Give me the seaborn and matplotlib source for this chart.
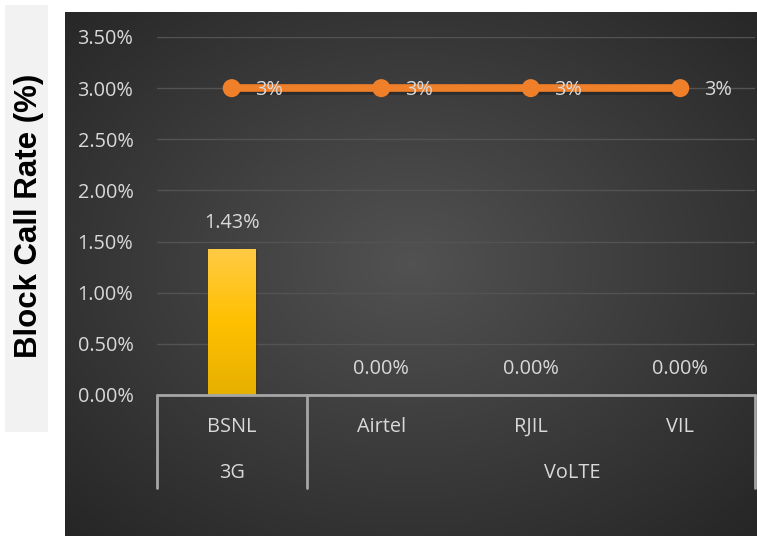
import numpy as np
import matplotlib
matplotlib.use("Agg")
import matplotlib.pyplot as plt
import matplotlib.patheffects as pe
from matplotlib.ticker import PercentFormatter
import seaborn as sns

# Chart data (rates as fractions)
operators = ["BSNL", "Airtel", "RJIL", "VIL"]
technology = ["3G", "VoLTE", "VoLTE", "VoLTE"]
block_call_rate = [0.0143, 0.0, 0.0, 0.0]
benchmark = [0.03, 0.03, 0.03, 0.03]
bar_labels = ["1.43%", "0.00%", "0.00%", "0.00%"]
benchmark_labels = ["3%", "3%", "3%", "3%"]
y_ticks = [0.0, 0.005, 0.01, 0.015, 0.02, 0.025, 0.03, 0.035]

# Canvas size in pixels
W, H = 757, 536
TEXT_COLOR = "#d9d9d9"
AXIS_COLOR = "#a6a6a6"
LINE_COLOR = "#f07f2a"
FONT = "Open Sans"
FS = 14.3

sns.set_theme(style="white")
plt.rcParams["font.family"] = [FONT, "DejaVu Sans"]

fig = plt.figure(figsize=(W / 100, H / 100), dpi=100)
fig.patch.set_facecolor("white")

# Light grey panel holding the y-axis title
panel = fig.add_axes([5 / W, 1 - 432 / H, 43 / W, 427 / H])
panel.set_facecolor("#f2f2f2")
panel.set_xticks([])
panel.set_yticks([])
for s in panel.spines.values():
    s.set_visible(False)
panel.text(0.55, 0.505, "Block Call Rate (%)", rotation=90, ha="center", va="center",
           fontsize=22.5, fontweight="bold", family="Liberation Sans", color="black",
           transform=panel.transAxes)

# Dark radial gradient background
bg = fig.add_axes([65 / W, 0, 1 - 65 / W, 1 - 12 / H], zorder=0)
gx, gy = np.meshgrid(np.linspace(0, 1, 400), np.linspace(0, 1, 300))
r = np.sqrt(((gx - 0.5) / 0.75) ** 2 + ((gy - 0.52) / 0.75) ** 2)
shade = 0.32 - 0.17 * np.clip(r / 0.95, 0, 1)
bg.imshow(np.dstack([shade, shade, shade]), extent=(0, 1, 0, 1), aspect="auto", origin="lower")
bg.set_axis_off()

# Main plot area
ax = fig.add_axes([157 / W, 1 - 395 / H, (755 - 157) / W, (395 - 37) / H], zorder=1)
ax.patch.set_alpha(0)
x = np.arange(len(operators))

sns.barplot(x=x, y=block_call_rate, ax=ax, color="#ffc000", width=0.32,
            native_scale=True, edgecolor="none", linewidth=0, zorder=3)

# Gold vertical gradient on the bars
grad = np.linspace(0, 1, 256).reshape(-1, 1)
gold = matplotlib.colors.LinearSegmentedColormap.from_list(
    "gold", ["#e6b000", "#ffc000", "#ffcb45"])
for patch in ax.patches:
    patch.set_path_effects([pe.SimplePatchShadow(offset=(2, -1), alpha=0.4), pe.Normal()])
    bx, by = patch.get_x(), patch.get_y()
    bw, bh = patch.get_width(), patch.get_height()
    if bh <= 0:
        continue
    im = ax.imshow(grad, cmap=gold, extent=(bx, bx + bw, by, by + bh),
                   aspect="auto", origin="lower", zorder=4)
    im.set_clip_path(patch)

# Benchmark line with markers
sns.lineplot(x=x, y=benchmark, ax=ax, color=LINE_COLOR, linewidth=5.5, marker="o",
             markersize=13, markeredgewidth=0, zorder=5,
             path_effects=[pe.SimpleLineShadow(offset=(1.5, -2), alpha=0.45), pe.Normal()])

# Data labels
for xi, v, lab in zip(x, block_call_rate, bar_labels):
    ax.annotate(lab, (xi, v), xytext=(0, 18.5), textcoords="offset points",
                ha="center", va="center", fontsize=FS, color=TEXT_COLOR, zorder=6)
for xi, v, lab in zip(x, benchmark, benchmark_labels):
    ax.annotate(lab, (xi, v), xytext=(17, -1), textcoords="offset points",
                ha="left", va="center", fontsize=FS, color=TEXT_COLOR, zorder=6)

# Axis limits, grid and ticks
ax.set_xlim(-0.5, len(operators) - 0.5)
ax.set_ylim(0, 0.035)
ax.set_yticks(y_ticks)
ax.yaxis.set_major_formatter(PercentFormatter(xmax=1, decimals=2))
ax.tick_params(axis="y", length=0, pad=17, labelsize=FS, labelcolor=TEXT_COLOR)
ax.set_xticks([])
ax.set_xlabel("")
ax.set_ylabel("")
ax.grid(axis="y", color="#535353", linewidth=1)
ax.set_axisbelow(True)
for s in ax.spines.values():
    s.set_visible(False)

# Multi-level category axis
xt = ax.get_xaxis_transform()
ax.plot([-0.5, len(operators) - 0.5], [0, 0], color=AXIS_COLOR, lw=2,
        transform=xt, clip_on=False, zorder=6)
# separators between groups (start, group boundary, end)
groups = []
for i, t in enumerate(technology):
    if not groups or groups[-1][0] != t:
        groups.append([t, i, i])
    else:
        groups[-1][2] = i
sep_y = -(488 - 395) / (395 - 37)
for xs in [-0.5] + [g[2] + 0.5 for g in groups]:
    ax.plot([xs, xs], [0, sep_y], color=AXIS_COLOR, lw=2, transform=xt,
            clip_on=False, zorder=6)
for xi, name in zip(x, operators):
    ax.text(xi, -(427 - 395) / 358, name, transform=xt, ha="center", va="center",
            fontsize=FS, color=TEXT_COLOR)
for name, i0, i1 in groups:
    xc = (i0 + i1) / 2
    if i1 > i0:
        xc += 0.28
    ax.text(xc, -(473 - 395) / 358, name, transform=xt, ha="center", va="center",
            fontsize=FS, color=TEXT_COLOR)

fig.savefig("out.png", dpi=100)
